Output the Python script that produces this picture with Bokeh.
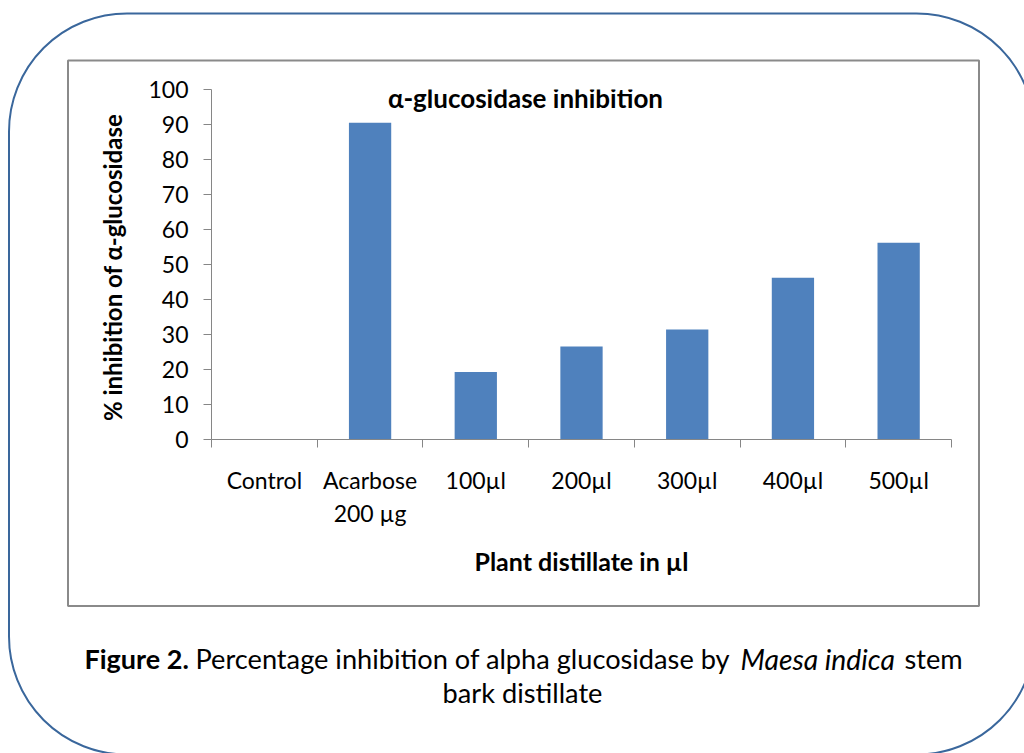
from bokeh.plotting import figure
from bokeh.models import Range1d, FixedTicker, BoxAnnotation, Label
from bokeh.embed import file_html
from bokeh.resources import INLINE

# ---- data ----
categories = ["Control", "Acarbose\n200 µg", "100µl", "200µl", "300µl", "400µl", "500µl"]
inhibition = [0, 90.5, 19.3, 26.6, 31.4, 46.2, 56.2]
y_ticks = [0, 10, 20, 30, 40, 50, 60, 70, 80, 90, 100]
chart_title = "α-glucosidase inhibition"
x_label = "Plant distillate in µl"
y_label = "% inhibition of  α-glucosidase"
caption_parts = [("Figure 2.", "bold"),
                 ("Percentage inhibition of alpha glucosidase by", "normal"),
                 ("Maesa indica", "italic"),
                 ("stem", "normal")]
caption_line2 = "bark distillate"

FONT = "Lato"
W, H = 1024, 753
n = len(categories)

# ---------- background page: rounded frame, chart box, caption ----------
bg = figure(width=W, height=H, output_backend="svg", toolbar_location=None,
            x_range=Range1d(0, W), y_range=Range1d(0, H),
            x_axis_type=None, y_axis_type=None, min_border=0)
bg.outline_line_color = None
bg.background_fill_color = "white"
bg.border_fill_color = "white"


def Y(py):
    return H - py


bg.add_layout(BoxAnnotation(left=8.5, right=1034, top=Y(13), bottom=Y(754),
                            fill_color=None, line_color="#3A679C", line_alpha=1.0,
                            line_width=2, border_radius=118))
bg.add_layout(BoxAnnotation(left=67.5, right=978.5, top=Y(60), bottom=Y(605.5),
                            fill_color=None, line_color="#8A8A8A", line_alpha=1.0,
                            line_width=2))

cap_x = [84, 195, 740, 904]
cap_size = {"bold": "27px", "normal": "27.2px", "italic": "28.3px"}
for (t, st), x0 in zip(caption_parts, cap_x):
    bg.add_layout(Label(x=x0, y=Y(658), text=t, text_align="left",
                        text_baseline="alphabetic", text_font=FONT, text_font_style=st,
                        text_font_size=cap_size[st], text_color="black"))
bg.add_layout(Label(x=522, y=Y(692), text=caption_line2, text_align="center",
                    text_baseline="alphabetic", text_font=FONT,
                    text_font_size="27.2px", text_color="black"))

# ---------- chart ----------
FL, FR, FT, FB = 211, 951, 89, 439
p = figure(width=W, height=H, output_backend="svg", toolbar_location=None,
           x_range=Range1d(-0.5, n - 0.5), y_range=Range1d(0, 100),
           min_border_left=FL, min_border_right=W - FR,
           min_border_top=FT, min_border_bottom=H - FB,
           styles={"position": "absolute", "left": "0px", "top": "0px"})
p.outline_line_color = None
p.grid.visible = False
p.background_fill_color = None
p.border_fill_color = None

p.vbar(x=list(range(n)), top=inhibition, width=0.4,
       fill_color="#4F81BD", line_color=None)

AX = "#868686"
xa = p.xaxis[0]
xa.ticker = FixedTicker(ticks=list(range(n)), minor_ticks=[i - 0.5 for i in range(n + 1)])
xa.major_label_overrides = {i: c for i, c in enumerate(categories)}
xa.major_tick_out = 0
xa.major_tick_in = 0
xa.minor_tick_out = 8
xa.minor_tick_in = 0
xa.minor_tick_line_color = AX
xa.axis_line_color = AX
xa.major_label_text_font = FONT
xa.major_label_text_font_size = "23px"
xa.major_label_text_color = "black"
xa.major_label_standoff = 18
xa.axis_label = x_label
xa.axis_label_text_font = FONT
xa.axis_label_text_font_style = "bold"
xa.axis_label_text_font_size = "25px"
xa.axis_label_text_color = "black"
xa.axis_label_standoff = 16

ya = p.yaxis[0]
ya.ticker = FixedTicker(ticks=y_ticks, minor_ticks=[])
ya.major_tick_out = 8
ya.major_tick_in = 0
ya.major_tick_line_color = AX
ya.axis_line_color = AX
ya.major_label_text_font = FONT
ya.major_label_text_font_size = "23px"
ya.major_label_text_color = "black"
ya.major_label_standoff = 15
ya.axis_label = y_label
ya.axis_label_text_font = FONT
ya.axis_label_text_font_style = "bold"
ya.axis_label_text_font_size = "24px"
ya.axis_label_text_color = "black"
ya.axis_label_standoff = 18

p.add_layout(Label(x=(525 - FL) * n / (FR - FL) - 0.5, y=(FB - 97) * 100 / (FB - FT),
                   text=chart_title, text_align="center",
                   text_baseline="alphabetic", text_font=FONT, text_font_style="bold",
                   text_font_size="26px", text_color="black"))

open("out.html", "w").write(file_html((bg, p), INLINE))
